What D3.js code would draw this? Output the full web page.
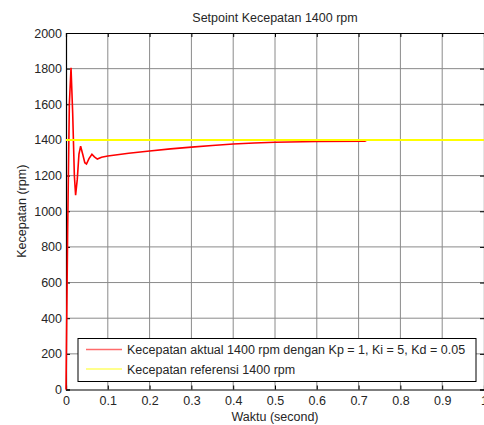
<!DOCTYPE html>
<html>
<head>
<meta charset="utf-8">
<script src="https://cdnjs.cloudflare.com/ajax/libs/d3/7.8.5/d3.min.js"></script>
<style>
  body { margin: 0; background: #fff; }
  svg text { font-family: "Liberation Sans", Arial, sans-serif; font-size: 12.5px; fill: #262626; }
</style>
</head>
<body>
<svg width="484" height="425"></svg>
<script>
// step response (time in s, speed in rpm)
const waktu = [0, 0.004, 0.008, 0.012, 0.016, 0.02, 0.023, 0.027, 0.031, 0.035, 0.04, 0.045, 0.049,
  0.055, 0.062, 0.068, 0.075, 0.085, 0.1, 0.15, 0.2, 0.25, 0.3, 0.35, 0.4, 0.45, 0.5, 0.6, 0.715, 0.72, 1]
const kecepatanAktual = [0, 900, 1600, 1805, 1550, 1200, 1090, 1180, 1320, 1365, 1320, 1272, 1265,
  1295, 1320, 1305, 1293, 1303, 1310, 1325, 1338, 1350, 1360, 1369, 1377, 1383, 1387, 1391, 1393, 1400, 1400]
const waktuRef = [0, 1]
const kecepatanRef = [1400, 1400]

const xTicks = [0, 0.1, 0.2, 0.3, 0.4, 0.5, 0.6, 0.7, 0.8, 0.9, 1]
const yTicks = [0, 200, 400, 600, 800, 1000, 1200, 1400, 1600, 1800, 2000]
const seriesNames = ["Kecepatan aktual 1400 rpm dengan Kp = 1, Ki = 5, Kd = 0.05", "Kecepatan referensi 1400 rpm"]
const seriesColours = ["#ff0000", "#ffff00"]
const legendColours = ["#ff6b6b", "#ffff66"]

const svg = d3.select("svg")
const plotLeft = 66, plotRight = 484, plotTop = 33, plotBottom = 389.5

const x = d3.scaleLinear().domain([0, 1]).range([plotLeft, plotRight])
const y = d3.scaleLinear().domain([0, 2000]).range([plotBottom, plotTop])

// grid
const grid = svg.append("g")
grid.selectAll(".gx").data(xTicks.slice(1, -1)).enter().append("line")
  .attr("x1", d => x(d)).attr("x2", d => x(d)).attr("y1", plotTop).attr("y2", plotBottom)
  .attr("stroke", "#8a8a8a").attr("stroke-width", 1)
grid.selectAll(".gy").data(yTicks.slice(1, -1)).enter().append("line")
  .attr("y1", d => y(d)).attr("y2", d => y(d)).attr("x1", plotLeft).attr("x2", plotRight)
  .attr("stroke", "#8a8a8a").attr("stroke-width", 1)

// axes with inward ticks
const xAxis = svg.append("g").attr("transform", "translate(0," + plotBottom + ")")
  .call(d3.axisBottom(x).tickValues(xTicks).tickSize(-4).tickPadding(8).tickFormat(d3.format("")))
svg.append("g").attr("transform", "translate(0," + plotTop + ")")
  .call(d3.axisTop(x).tickValues(xTicks).tickSize(-4).tickFormat(""))
svg.append("g").attr("transform", "translate(" + plotLeft + ",0)")
  .call(d3.axisLeft(y).tickValues(yTicks).tickSize(-4).tickPadding(4).tickFormat(d3.format("")))
svg.append("g").attr("transform", "translate(" + plotRight + ",0)")
  .call(d3.axisRight(y).tickValues(yTicks).tickSize(-4).tickFormat(""))

svg.selectAll(".domain").attr("stroke", "#000").attr("stroke-width", 1.2)
svg.selectAll(".tick line").attr("stroke", "#000")
svg.selectAll(".tick text").attr("fill", "#262626")
  .style("font-family", '"Liberation Sans", Arial, sans-serif').style("font-size", "12.5px")
xAxis.selectAll(".tick text").attr("dy", "0.71em").attr("y", 6.5)

// lines
const line = d3.line().x(d => x(d[0])).y(d => y(d[1]))
svg.append("path").datum(d3.zip(waktu, kecepatanAktual))
  .attr("fill", "none").attr("stroke", seriesColours[0]).attr("stroke-width", 1.6)
  .attr("d", line)
svg.append("path").datum(d3.zip(waktuRef, kecepatanRef))
  .attr("fill", "none").attr("stroke", seriesColours[1]).attr("stroke-width", 2)
  .attr("d", line)

// legend
const legend = svg.append("g")
legend.append("rect").attr("x", 78).attr("y", 338.5).attr("width", 398).attr("height", 43)
  .attr("fill", "#fff").attr("stroke", "#000").attr("stroke-width", 1)
seriesNames.forEach((name, i) => {
  const ly = 349.5 + i * 19.5
  legend.append("line").attr("x1", 86).attr("x2", 122).attr("y1", ly).attr("y2", ly)
    .style("stroke", legendColours[i]).style("stroke-width", "1.5px")
  legend.append("text").attr("x", 127).attr("y", ly + 4.5).text(name)
})

// titles
svg.append("text").attr("x", (plotLeft + plotRight) / 2).attr("y", 22).attr("text-anchor", "middle")
  .text("Setpoint Kecepatan 1400 rpm")
svg.append("text").attr("x", (plotLeft + plotRight) / 2).attr("y", 421).attr("text-anchor", "middle")
  .text("Waktu (second)")
svg.append("text").attr("transform", "translate(26," + (plotTop + plotBottom) / 2 + ") rotate(-90)")
  .attr("text-anchor", "middle").text("Kecepatan (rpm)")
</script>
</body>
</html>
